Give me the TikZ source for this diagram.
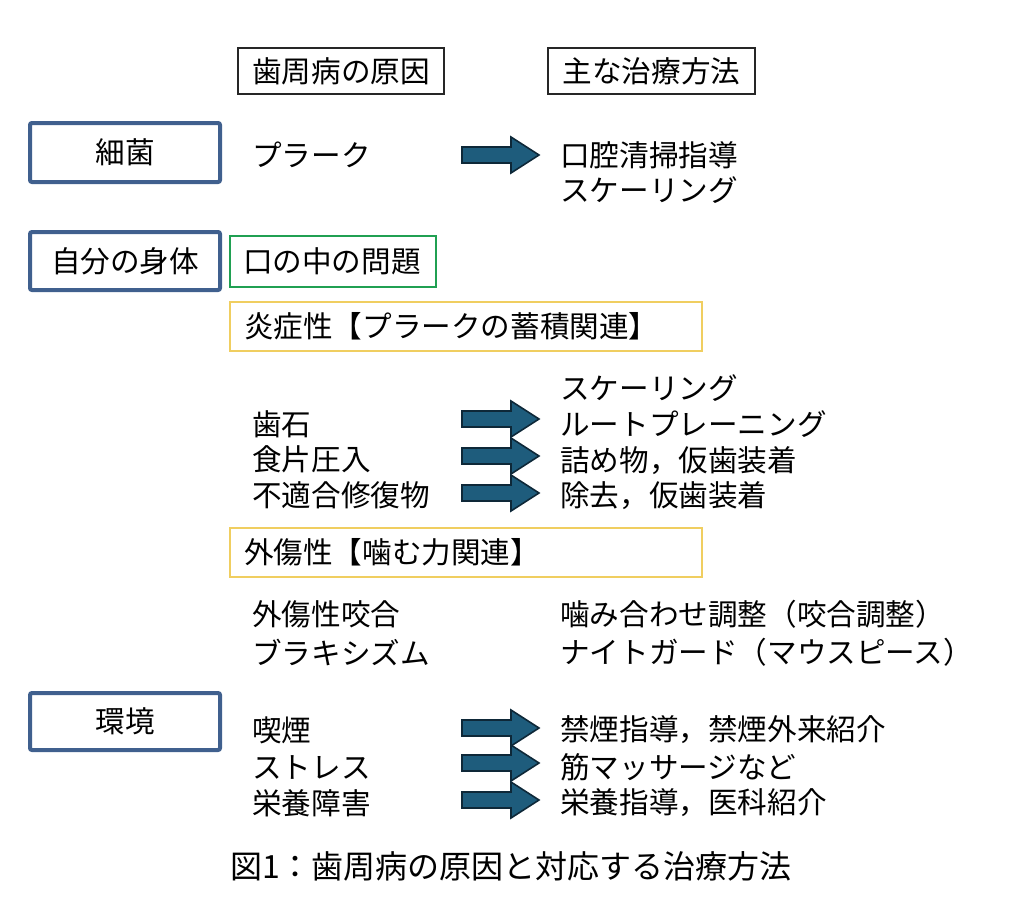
\documentclass[tikz,border=0pt]{standalone}
\usepackage{fontspec}
\setmainfont{Noto Sans CJK JP}
\begin{document}
\begin{tikzpicture}[x=1pt,y=-1pt,
  every node/.style={font=\fontsize{29.6}{34}\selectfont, inner sep=0pt},
  txt/.style={anchor=west},
  headbox/.style={draw=black!85, line width=1.1pt, minimum width=206pt, minimum height=46pt},
  causebox/.style={draw=causeblue, line width=4pt, rounded corners=2pt, minimum width=190pt, minimum height=58pt},
  greenbox/.style={draw=boxgreen, line width=2.4pt, minimum width=206pt, minimum height=51pt, inner xsep=13pt, text width=180pt, align=left},
  yellowbox/.style={draw=boxyellow, line width=1.4pt, minimum width=472pt, minimum height=49pt, inner xsep=14pt, text width=444pt, align=left},
  arrowstyle/.style={fill=arrowfill, draw=arrowdraw, line width=1.6pt, line join=miter},
  blockarrow/.pic={\draw[arrowstyle] (0,-8) -- (49,-8) -- (49,-18) -- (77,0) -- (49,18) -- (49,8) -- (0,8) -- cycle;}
]
\definecolor{causeblue}{RGB}{64,96,142}
\definecolor{boxgreen}{RGB}{32,160,82}
\definecolor{boxyellow}{RGB}{240,206,96}
\definecolor{arrowfill}{RGB}{30,92,124}
\definecolor{arrowdraw}{RGB}{14,40,56}
\useasboundingbox (0,0) rectangle (1024,915);

% headers
\node[headbox] (h1) at (341,71) {歯周病の原因};
\node[headbox, minimum width=207pt] (h2) at (651.5,71) {主な治療方法};

% cause boxes
\node[causebox, minimum height=59pt] (c1) at (125,152.5) {細菌};
\node[causebox] (c2) at (125,261) {自分の身体};
\node[causebox, minimum height=57pt] (c3) at (125,721.5) {環境};

% bacteria row
\node[txt] (p1) at (252,155) {プラーク};
\pic at (462,155) {blockarrow};
\node[txt] (t1a) at (560,155) {口腔清掃指導};
\node[txt] (t1b) at (560,190) {スケーリング};

% own body
\node[greenbox] (g1) at (333,261.5) {口の中の問題};
\node[yellowbox] (y1) at (466,326.5) {炎症性【プラークの蓄積関連】};

\node[txt] (t2a) at (560,388) {スケーリング};
\node[txt] (t2b) at (560,424) {ルートプレーニング};
\node[txt] (t2c) at (560,461) {詰め物，仮歯装着};
\node[txt] (t2d) at (560,496) {除去，仮歯装着};
\node[txt] (p2a) at (252,424) {歯石};
\node[txt] (p2b) at (252,459) {食片圧入};
\node[txt] (p2c) at (252,495) {不適合修復物};
\pic at (462,419) {blockarrow};
\pic at (462,456) {blockarrow};
\pic at (462,493) {blockarrow};

\node[yellowbox] (y2) at (466,552.5) {外傷性【噛む力関連】};
\node[txt] (p3a) at (252,614) {外傷性咬合};
\node[txt] (p3b) at (252,652) {ブラキシズム};
\node[txt] (t3a) at (560,614) {噛み合わせ調整（咬合調整）};
\node[txt] (t3b) at (560,652) {ナイトガード（マウスピース）};

% environment
\node[txt] (p4a) at (252,730) {喫煙};
\node[txt] (p4b) at (252,767) {ストレス};
\node[txt] (p4c) at (252,803) {栄養障害};
\pic at (462,728) {blockarrow};
\pic at (462,763) {blockarrow};
\pic at (462,800) {blockarrow};
\node[txt] (t4a) at (560,730) {禁煙指導，禁煙外来紹介};
\node[txt] (t4b) at (560,767) {筋マッサージなど};
\node[txt] (t4c) at (560,803) {栄養指導，医科紹介};

% caption
\node[txt, font=\fontsize{32}{38}\selectfont] (cap) at (230,866) {図1：歯周病の原因と対応する治療方法};
\end{tikzpicture}
\end{document}
